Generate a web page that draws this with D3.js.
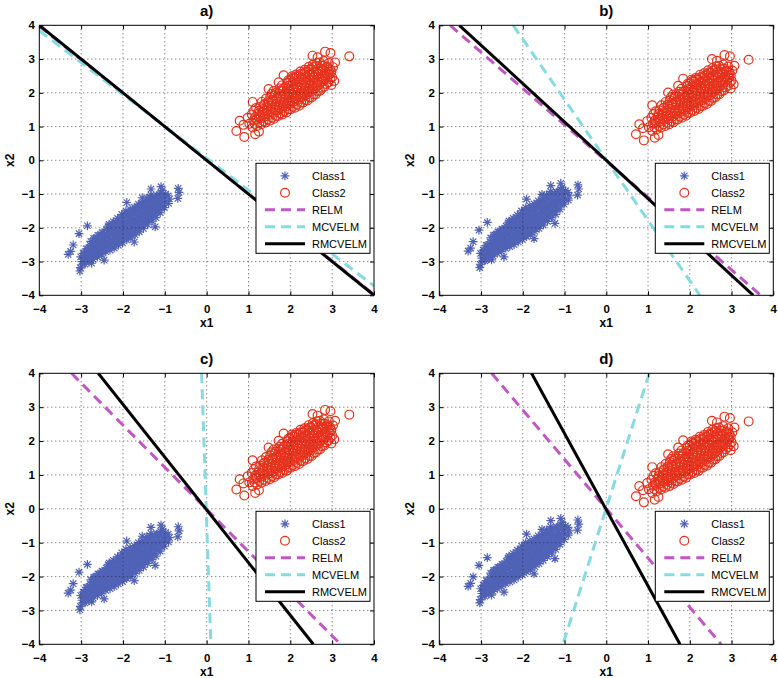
<!DOCTYPE html>
<html><head><meta charset="utf-8">
<script src="https://cdn.jsdelivr.net/npm/d3@7"></script>
<style>
body{margin:0;background:#fff}
svg{display:block;font-family:'Liberation Sans',Arial,Helvetica,sans-serif}
</style>
</head><body>
<svg id="chart" width="778" height="678"></svg>
<script>
// ---------------- data ----------------
const panelTitles = ["a)", "b)", "c)", "d)"];
const tickValues = [-4, -3, -2, -1, 0, 1, 2, 3, 4];
const seriesNames = ["Class1", "Class2", "RELM", "MCVELM", "RMCVELM"];
// vertical offset of the two classes in each panel (class1 up, class2 down)
const panelShift = [0, 0.1, 0.3, 0.5];

// decision boundaries: endpoints [x1,x2] read where each line meets the frame
const relmLines = [
  [[-4, 3.98], [4, -3.98]],
  [[-3.74, 4], [3.70, -4]],
  [[-3.23, 4], [3.20, -4]],
  [[-2.745, 4], [2.75, -4]]
];
const mcvelmLines = [
  [[-4, 3.84], [4, -3.72]],
  [[-2.23, 4], [2.24, -4]],
  [[-0.12, 4], [0.10, -4]],
  [[1.03, 4], [-1.04, -4]]
];
const rmcvelmLines = [
  [[-4, 4], [4, -4]],
  [[-3.52, 4], [3.52, -4]],
  [[-2.59, 4], [2.55, -4]],
  [[-1.79, 4], [1.765, -4]]
];

// class samples as seen in panel a)
const class1Base = [
[-3.02,-3.18],[-2.98,-3.00],[-3.01,-2.86],
[-2.91,-3.08],[-2.89,-2.92],[-2.92,-2.76],[-2.88,-2.62],
[-2.81,-3.01],[-2.79,-2.85],[-2.82,-2.69],[-2.78,-2.52],
[-2.71,-2.94],[-2.69,-2.78],[-2.72,-2.61],[-2.68,-2.45],[-2.70,-2.32],
[-2.61,-2.86],[-2.59,-2.70],[-2.62,-2.54],[-2.58,-2.38],[-2.60,-2.22],
[-2.51,-2.80],[-2.49,-2.63],[-2.52,-2.47],[-2.48,-2.30],[-2.50,-2.14],
[-2.41,-2.71],[-2.39,-2.55],[-2.42,-2.38],[-2.38,-2.22],[-2.40,-2.05],
[-2.31,-2.66],[-2.29,-2.49],[-2.32,-2.32],[-2.28,-2.15],[-2.30,-1.98],[-2.33,-1.90],
[-2.21,-2.60],[-2.19,-2.43],[-2.22,-2.26],[-2.18,-2.09],[-2.20,-1.93],[-2.23,-1.82],
[-2.11,-2.52],[-2.09,-2.35],[-2.12,-2.18],[-2.08,-2.01],[-2.10,-1.85],[-2.13,-1.72],
[-2.01,-2.45],[-1.99,-2.28],[-2.02,-2.11],[-1.98,-1.94],[-2.00,-1.77],[-2.03,-1.60],
[-1.91,-2.36],[-1.89,-2.19],[-1.92,-2.02],[-1.88,-1.85],[-1.90,-1.68],[-1.93,-1.50],
[-1.81,-2.30],[-1.79,-2.13],[-1.82,-1.96],[-1.78,-1.79],[-1.80,-1.62],[-1.83,-1.45],
[-1.71,-2.21],[-1.69,-2.04],[-1.72,-1.87],[-1.68,-1.70],[-1.70,-1.53],[-1.73,-1.39],
[-1.61,-2.12],[-1.59,-1.95],[-1.62,-1.78],[-1.58,-1.61],[-1.60,-1.44],[-1.63,-1.30],
[-1.51,-2.02],[-1.49,-1.85],[-1.52,-1.68],[-1.48,-1.51],[-1.50,-1.35],[-1.53,-1.23],
[-1.41,-1.91],[-1.39,-1.74],[-1.42,-1.57],[-1.38,-1.40],[-1.40,-1.24],[-1.43,-1.12],
[-1.31,-1.80],[-1.29,-1.63],[-1.32,-1.46],[-1.28,-1.30],[-1.30,-1.14],[-1.33,-1.03],
[-1.21,-1.70],[-1.19,-1.53],[-1.22,-1.36],[-1.18,-1.20],[-1.20,-1.05],
[-1.11,-1.55],[-1.09,-1.40],[-1.12,-1.25],[-1.08,-1.10],[-1.10,-0.97],
[-1.01,-1.40],[-0.99,-1.25],[-1.02,-1.12],[-0.98,-1.00],
[-0.91,-1.28],[-0.89,-1.15],[-0.92,-1.05],
[-2.96,-3.08],[-2.94,-2.92],[-2.95,-2.76],
[-2.86,-2.97],[-2.84,-2.80],[-2.85,-2.62],
[-2.76,-2.90],[-2.74,-2.72],[-2.75,-2.55],[-2.77,-2.40],
[-2.66,-2.82],[-2.64,-2.64],[-2.65,-2.47],[-2.67,-2.31],
[-2.56,-2.75],[-2.54,-2.57],[-2.55,-2.40],[-2.57,-2.23],
[-2.46,-2.67],[-2.44,-2.49],[-2.45,-2.32],[-2.47,-2.15],
[-2.36,-2.60],[-2.34,-2.42],[-2.35,-2.25],[-2.37,-2.08],[-2.35,-1.95],
[-2.26,-2.54],[-2.24,-2.36],[-2.25,-2.19],[-2.27,-2.02],[-2.25,-1.88],
[-2.16,-2.47],[-2.14,-2.29],[-2.15,-2.12],[-2.17,-1.95],[-2.15,-1.79],
[-2.06,-2.40],[-2.04,-2.22],[-2.05,-2.04],[-2.07,-1.87],[-2.05,-1.70],
[-1.96,-2.32],[-1.94,-2.14],[-1.95,-1.96],[-1.97,-1.79],[-1.95,-1.60],
[-1.86,-2.24],[-1.84,-2.06],[-1.85,-1.89],[-1.87,-1.72],[-1.85,-1.54],
[-1.76,-2.16],[-1.74,-1.98],[-1.75,-1.81],[-1.77,-1.64],[-1.75,-1.47],
[-1.66,-2.07],[-1.64,-1.89],[-1.65,-1.72],[-1.67,-1.55],[-1.65,-1.38],
[-1.56,-1.97],[-1.54,-1.79],[-1.55,-1.62],[-1.57,-1.45],[-1.55,-1.30],
[-1.46,-1.87],[-1.44,-1.69],[-1.45,-1.52],[-1.47,-1.35],[-1.45,-1.20],
[-1.36,-1.76],[-1.34,-1.58],[-1.35,-1.41],[-1.37,-1.24],[-1.35,-1.10],
[-1.26,-1.64],[-1.24,-1.47],[-1.25,-1.30],[-1.27,-1.14],
[-1.16,-1.52],[-1.14,-1.36],[-1.15,-1.20],[-1.17,-1.05],
[-1.06,-1.36],[-1.04,-1.21],[-1.05,-1.07],
[-0.68,-0.83],[-0.69,-1.13],[-1.09,-0.78],[-1.33,-0.85],[-2.85,-1.94],[-3.05,-2.17],
[-3.19,-2.51],[-3.31,-2.79],[-3.03,-3.28],[-2.45,-2.96],[-1.73,-2.42],[-1.23,-1.97],
[-1.91,-1.25],[-1.54,-1.11],[-0.66,-0.95],[-1.06,-0.90],[-3.25,-2.70],[-2.75,-3.05]
];
const class2Base = [
[1.02,1.08],[0.98,1.26],
[1.10,0.97],[1.12,1.18],[1.08,1.36],[1.13,1.47],
[1.21,1.02],[1.19,1.21],[1.23,1.38],[1.18,1.55],
[1.31,1.07],[1.29,1.25],[1.33,1.43],[1.28,1.58],[1.32,1.73],
[1.41,1.12],[1.39,1.30],[1.43,1.48],[1.38,1.66],[1.42,1.83],
[1.51,1.17],[1.49,1.34],[1.53,1.52],[1.48,1.70],[1.52,1.88],[1.55,1.97],
[1.61,1.23],[1.59,1.40],[1.63,1.57],[1.58,1.75],[1.62,1.92],[1.60,2.05],
[1.71,1.31],[1.69,1.48],[1.73,1.64],[1.68,1.81],[1.72,1.98],[1.74,2.13],
[1.81,1.36],[1.79,1.54],[1.83,1.71],[1.78,1.88],[1.82,2.05],[1.80,2.22],
[1.91,1.42],[1.89,1.60],[1.93,1.78],[1.88,1.95],[1.92,2.12],[1.94,2.30],
[2.01,1.51],[1.99,1.68],[2.03,1.86],[1.98,2.03],[2.02,2.20],[2.00,2.38],[2.04,2.49],
[2.11,1.56],[2.09,1.74],[2.13,1.92],[2.08,2.09],[2.12,2.26],[2.10,2.43],[2.14,2.54],
[2.21,1.62],[2.19,1.80],[2.23,1.98],[2.18,2.15],[2.22,2.32],[2.20,2.49],[2.24,2.63],
[2.31,1.71],[2.29,1.88],[2.33,2.05],[2.28,2.22],[2.32,2.39],[2.30,2.55],[2.34,2.68],
[2.41,1.77],[2.39,1.95],[2.43,2.12],[2.38,2.29],[2.42,2.46],[2.40,2.62],[2.44,2.77],
[2.51,1.86],[2.49,2.03],[2.53,2.20],[2.48,2.37],[2.52,2.54],[2.50,2.70],[2.54,2.83],
[2.61,1.96],[2.59,2.13],[2.63,2.30],[2.58,2.47],[2.62,2.63],[2.60,2.79],[2.64,2.88],
[2.71,2.06],[2.69,2.23],[2.73,2.40],[2.68,2.56],[2.72,2.72],[2.70,2.90],
[2.81,2.17],[2.79,2.34],[2.83,2.50],[2.78,2.66],[2.82,2.82],[2.80,2.94],
[2.91,2.31],[2.89,2.47],[2.93,2.62],[2.88,2.77],[2.92,2.88],
[3.00,2.46],[2.98,2.62],[3.02,2.76],
[1.15,1.08],[1.16,1.28],
[1.26,1.12],[1.24,1.30],[1.25,1.47],
[1.36,1.16],[1.34,1.34],[1.35,1.52],[1.37,1.65],
[1.46,1.21],[1.44,1.39],[1.45,1.57],[1.47,1.75],
[1.56,1.26],[1.54,1.43],[1.55,1.61],[1.57,1.79],
[1.66,1.31],[1.64,1.49],[1.65,1.66],[1.67,1.84],[1.64,1.99],
[1.76,1.39],[1.74,1.56],[1.75,1.73],[1.77,1.90],[1.76,2.06],
[1.86,1.45],[1.84,1.62],[1.85,1.80],[1.87,1.97],[1.84,2.14],
[1.96,1.51],[1.94,1.69],[1.95,1.87],[1.97,2.04],[1.96,2.21],[1.95,2.37],
[2.06,1.59],[2.04,1.77],[2.05,1.95],[2.07,2.12],[2.06,2.29],[2.05,2.44],
[2.16,1.65],[2.14,1.83],[2.15,2.01],[2.17,2.18],[2.16,2.35],[2.15,2.49],
[2.26,1.71],[2.24,1.89],[2.25,2.07],[2.27,2.24],[2.26,2.41],[2.25,2.56],
[2.36,1.79],[2.34,1.97],[2.35,2.14],[2.37,2.31],[2.36,2.47],[2.35,2.61],
[2.46,1.86],[2.44,2.04],[2.45,2.21],[2.47,2.38],[2.46,2.54],[2.45,2.69],
[2.56,1.95],[2.54,2.12],[2.55,2.29],[2.57,2.46],[2.56,2.62],[2.55,2.76],
[2.66,2.05],[2.64,2.22],[2.65,2.39],[2.67,2.55],[2.66,2.71],
[2.76,2.15],[2.74,2.32],[2.75,2.48],[2.77,2.64],[2.76,2.80],
[2.86,2.26],[2.84,2.42],[2.85,2.58],[2.87,2.73],
[2.96,2.40],[2.94,2.55],[2.95,2.70],
[3.41,3.08],[0.71,0.87],[0.90,0.69],[1.16,0.77],[0.79,1.17],[1.10,1.73],
[2.83,3.22],[2.96,3.18],[2.53,3.10],[3.07,2.90],[2.98,2.23],[1.48,2.11],
[1.72,2.31],[1.84,2.52],[0.88,1.05],[1.25,0.85],[2.65,3.05],[3.05,2.35]
];

// ---------------- layout / style ----------------
const panels = [
  {l: 39.3, r: 374, t: 25.3, b: 295.3},
  {l: 439.3, r: 773.3, t: 25.3, b: 295.3},
  {l: 39.3, r: 374, t: 373.3, b: 644.3},
  {l: 439.3, r: 773.3, t: 373.3, b: 644.3}
];
const colors = {c1: "#5062b6", c2: "#e6321c", relm: "#c057c4", mcv: "#86dbe3", rmcv: "#000"};
const dash = "10,6";

const svg = d3.select("#chart");
const asterisk = s => {
  const d = s * 0.72;
  return `M${-s},0L${s},0M0,${-s}L0,${s}M${-d},${-d}L${d},${d}M${-d},${d}L${d},${-d}`;
};

panels.forEach((P, i) => {
  const x = d3.scaleLinear().domain([-4, 4]).range([P.l, P.r]);
  const y = d3.scaleLinear().domain([-4, 4]).range([P.b, P.t]);
  const g = svg.append("g");
  const clipId = "clip" + i;
  svg.append("clipPath").attr("id", clipId).append("rect")
    .attr("x", P.l).attr("y", P.t).attr("width", P.r - P.l).attr("height", P.b - P.t);

  const shift = panelShift[i];
  const plot = g.append("g").attr("clip-path", `url(#${clipId})`);

  // class 1 asterisks
  plot.append("g").selectAll("path").data(class1Base).join("path")
    .attr("d", asterisk(4.4))
    .attr("transform", d => `translate(${x(d[0])},${y(d[1] + shift)})`)
    .attr("fill", "none").attr("stroke", colors.c1).attr("stroke-width", 1.2);
  // class 2 circles
  plot.append("g").selectAll("circle").data(class2Base).join("circle")
    .attr("cx", d => x(d[0])).attr("cy", d => y(d[1] - shift)).attr("r", 4.4)
    .attr("fill", "none").attr("stroke", colors.c2).attr("stroke-width", 1.2);

  // grid (drawn over the markers)
  const inner = tickValues.slice(1, -1);
  plot.append("g").selectAll("line").data(inner).join("line")
    .attr("x1", d => x(d)).attr("x2", d => x(d)).attr("y1", P.t).attr("y2", P.b)
    .attr("stroke", "#222").attr("stroke-width", 1).attr("stroke-dasharray", "1,3").attr("opacity", 0.75);
  plot.append("g").selectAll("line").data(inner).join("line")
    .attr("y1", d => y(d)).attr("y2", d => y(d)).attr("x1", P.l).attr("x2", P.r)
    .attr("stroke", "#222").attr("stroke-width", 1).attr("stroke-dasharray", "1,3").attr("opacity", 0.75);

  // boundary lines
  const line = d3.line().x(d => x(d[0])).y(d => y(d[1]));
  plot.append("path").attr("d", line(relmLines[i])).attr("fill", "none")
    .attr("stroke", colors.relm).attr("stroke-width", 3).attr("stroke-dasharray", dash);
  plot.append("path").attr("d", line(mcvelmLines[i])).attr("fill", "none")
    .attr("stroke", colors.mcv).attr("stroke-width", 3).attr("stroke-dasharray", dash);
  plot.append("path").attr("d", line(rmcvelmLines[i])).attr("fill", "none")
    .attr("stroke", colors.rmcv).attr("stroke-width", 3);

  // axes
  const fmt = d3.format("d");
  const ax = g.append("g").attr("transform", `translate(0,${P.b})`)
    .call(d3.axisBottom(x).tickValues(tickValues).tickFormat(fmt).tickSize(-4).tickPadding(9.5));
  const ay = g.append("g").attr("transform", `translate(${P.l},0)`)
    .call(d3.axisLeft(y).tickValues(tickValues).tickFormat(fmt).tickSize(-4).tickPadding(4.5));
  const at = g.append("g").attr("transform", `translate(0,${P.t})`)
    .call(d3.axisTop(x).tickValues(tickValues).tickFormat("").tickSize(-4));
  const ar = g.append("g").attr("transform", `translate(${P.r},0)`)
    .call(d3.axisRight(y).tickValues(tickValues).tickFormat("").tickSize(-4));
  [ax, ay, at, ar].forEach(a => {
    a.select(".domain").remove();
    a.selectAll("text").attr("font-size", 11.5).attr("font-weight", "bold").attr("fill", "#000")
      .attr("font-family", "'Liberation Sans',Arial,sans-serif");
  });
  g.append("rect").attr("x", P.l).attr("y", P.t).attr("width", P.r - P.l).attr("height", P.b - P.t)
    .attr("fill", "none").attr("stroke", "#000").attr("stroke-width", 1);

  // axis labels & title
  g.append("text").attr("x", (P.l + P.r) / 2).attr("y", P.b + 28)
    .attr("text-anchor", "middle").attr("dominant-baseline", "central")
    .attr("font-size", 12).attr("font-weight", "bold").text("x1");
  g.append("text").attr("transform", `translate(${P.l - 29},${(P.t + P.b) / 2}) rotate(-90)`)
    .attr("text-anchor", "middle").attr("dominant-baseline", "central")
    .attr("font-size", 12).attr("font-weight", "bold").text("x2");
  g.append("text").attr("x", (P.l + P.r) / 2).attr("y", P.t - 15)
    .attr("text-anchor", "middle").attr("dominant-baseline", "central")
    .attr("font-size", 15).attr("font-weight", "bold").text(panelTitles[i]);

  // legend
  const lx = P.r - 118, ly = P.t + 138;
  const lg = g.append("g").attr("transform", `translate(${lx},${ly})`);
  lg.append("rect").attr("width", 114).attr("height", 90)
    .attr("fill", "#fff").attr("stroke", "#000").attr("stroke-width", 1);
  seriesNames.forEach((name, k) => {
    const ry = 12.5 + 17 * k;
    if (k === 0) {
      lg.append("path").attr("d", asterisk(4.4)).attr("transform", `translate(29,${ry})`)
        .attr("fill", "none").attr("stroke", colors.c1).attr("stroke-width", 1.2);
    } else if (k === 1) {
      lg.append("circle").attr("cx", 29).attr("cy", ry).attr("r", 4.4)
        .attr("fill", "none").attr("stroke", colors.c2).attr("stroke-width", 1.2);
    } else {
      const c = k === 2 ? colors.relm : k === 3 ? colors.mcv : colors.rmcv;
      const ln = lg.append("line").attr("x1", 9).attr("x2", 49).attr("y1", ry).attr("y2", ry)
        .attr("stroke", c).attr("stroke-width", 3);
      if (k < 4) ln.attr("stroke-dasharray", dash);
    }
    lg.append("text").attr("x", 56).attr("y", ry).attr("dominant-baseline", "central")
      .attr("font-size", 11).text(name);
  });
});
</script>
</body></html>
